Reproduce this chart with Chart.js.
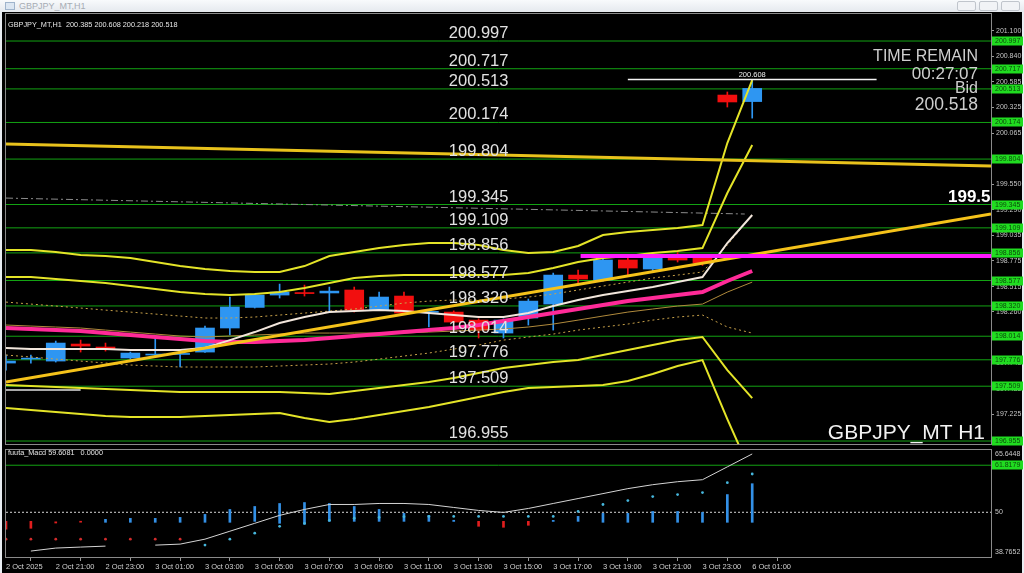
<!DOCTYPE html>
<html>
<head>
<meta charset="utf-8">
<title>GBPJPY_MT,H1</title>
<script src="https://cdn.jsdelivr.net/npm/chart.js@4.4.1/dist/chart.umd.min.js"></script>
<style>
  html, body { margin: 0; padding: 0; width: 1024px; height: 573px; overflow: hidden; background: #e9edf2; font-family: "Liberation Sans", Arial, sans-serif; }
  #titlebar { position: absolute; left: 0; top: 0; width: 1024px; height: 12px; background: linear-gradient(#f8fafc, #e5e9ee); }
  #titlebar .ico { position: absolute; left: 5px; top: 2px; width: 8px; height: 6px; border: 1px solid #9fb4cc; background: #dbe6f2; }
  #titlebar .cap { position: absolute; left: 19px; top: 1px; font-size: 9px; line-height: 10px; color: #a6acb4; }
  #titlebar .btn { position: absolute; top: 1px; width: 17px; height: 8px; border: 1px solid #c0c5cc; background: #f1f3f6; border-radius: 2px; }
  #pane { position: absolute; left: 2px; top: 12px; width: 1020px; height: 561px; background: #000; }
  canvas { position: absolute; left: 0; }
  #priceCanvas { top: 0; }
  #macdCanvas { top: 446px; }
  .t { position: absolute; white-space: nowrap; }
</style>
</head>
<body>
<div id="titlebar">
  <div class="ico"></div>
  <div class="cap">GBPJPY_MT,H1</div>
  <div class="btn" style="left:957px"></div>
  <div class="btn" style="left:979px"></div>
  <div class="btn" style="left:1001px"></div>
</div>
<div id="pane"></div>
<canvas id="priceCanvas" width="1024" height="452"></canvas>
<canvas id="macdCanvas" width="1024" height="127"></canvas>

<div class="t" style="left:8px;top:20px;font-size:7.3px;line-height:9px;color:#e6e6e6">GBPJPY_MT,H1&nbsp; 200.385 200.608 200.218 200.518</div>
<div class="t" style="right:46px;top:48px;font-size:16px;line-height:16px;color:#cfcfcf;font-family:'Liberation Sans Narrow','Liberation Sans',Arial,sans-serif">TIME REMAIN</div>
<div class="t" style="right:46px;top:65px;font-size:17px;line-height:17px;color:#cfcfcf">00:27:07</div>
<div class="t" style="right:46px;top:80px;font-size:16px;line-height:16px;color:#cfcfcf">Bid</div>
<div class="t" style="right:46px;top:95px;font-size:17.5px;line-height:18px;color:#cfcfcf">200.518</div>
<div class="t" style="left:948px;top:188px;width:43px;overflow:hidden;font-size:17px;line-height:17px;font-weight:bold;color:#ffffff">199.5</div>
<div class="t" style="right:39px;top:421px;font-size:21px;line-height:22px;color:#f2f2f2">GBPJPY_MT H1</div>
<div class="t" style="left:8px;top:448px;font-size:7.3px;line-height:9px;color:#e6e6e6">fuuta_Macd 59.6081&nbsp;&nbsp; 0.0000</div>

<script>
// ---- price panel data (bar 0 = 2 Oct 19:00, bar 30 = 6 Oct 01:00) ----
const levels = [200.997, 200.717, 200.513, 200.174, 199.804, 199.345, 199.109,
                198.856, 198.577, 198.320, 198.014, 197.776, 197.509, 196.955];
const priceTicks = [201.100, 200.840, 200.585, 200.325, 200.065, 199.805, 199.550, 199.290,
                    199.035, 198.775, 198.515, 198.260, 198.000, 197.745, 197.485, 197.225, 196.965];
const xTickIdx = [0, 2, 4, 6, 8, 10, 12, 14, 16, 18, 20, 22, 24, 26, 28, 30];
const xTickText = ['2 Oct 2025', '2 Oct 21:00', '2 Oct 23:00', '3 Oct 01:00', '3 Oct 03:00', '3 Oct 05:00',
                   '3 Oct 07:00', '3 Oct 09:00', '3 Oct 11:00', '3 Oct 13:00', '3 Oct 15:00', '3 Oct 17:00',
                   '3 Oct 19:00', '3 Oct 21:00', '3 Oct 23:00', '6 Oct 01:00'];

const openP  = [197.743, 197.783, 197.763, 197.935, 197.905, 197.794, 197.824, 197.830, 197.854, 198.097, 198.305,
                198.430, 198.455, 198.451, 198.481, 198.278, 198.420, 198.255, 198.258, 198.177, 198.046,
                198.198, 198.339, 198.632, 198.582, 198.784, 198.693, 198.834, 198.804, 200.451, 200.385];
const highP  = [197.824, 197.824, 197.965, 197.975, 197.945, 197.854, 198.006, 197.854, 198.117, 198.410, 198.440,
                198.541, 198.531, 198.511, 198.511, 198.460, 198.460, 198.268, 198.270, 198.190, 198.190,
                198.390, 198.652, 198.683, 198.800, 198.800, 198.830, 198.860, 198.830, 200.482, 200.608];
const lowP   = [197.672, 197.743, 197.753, 197.854, 197.864, 197.783, 197.804, 197.703, 197.850, 198.026, 198.299,
                198.400, 198.420, 198.258, 198.258, 198.275, 198.245, 198.107, 198.150, 197.996, 197.996,
                198.127, 198.076, 198.531, 198.570, 198.632, 198.663, 198.764, 198.730, 200.330, 200.218];
const closeP = [197.763, 197.790, 197.945, 197.915, 197.884, 197.844, 197.834, 197.840, 198.097, 198.309, 198.430,
                198.460, 198.445, 198.470, 198.278, 198.410, 198.248, 198.262, 198.157, 198.076, 198.177,
                198.369, 198.632, 198.592, 198.784, 198.703, 198.814, 198.784, 198.754, 200.381, 200.518];

const bandOuterUp  = [198.885, 198.885, 198.865, 198.834, 198.824, 198.804, 198.764, 198.723, 198.693, 198.673, 198.663,
                      198.663, 198.723, 198.824, 198.865, 198.905, 198.936, 198.956, 198.956, 198.936, 198.885,
                      198.855, 198.865, 198.926, 199.037, 199.067, 199.087, 199.107, 199.138, 199.966, 200.603];
const bandInnerUp  = [198.612, 198.612, 198.592, 198.572, 198.551, 198.521, 198.491, 198.460, 198.440, 198.430, 198.440,
                      198.460, 198.501, 198.551, 198.602, 198.622, 198.632, 198.632, 198.632, 198.632, 198.632,
                      198.652, 198.703, 198.764, 198.804, 198.824, 198.855, 198.875, 198.905, 199.461, 199.946];
const bandInnerLow = [197.521, 197.511, 197.500, 197.490, 197.480, 197.470, 197.460, 197.450, 197.450, 197.450, 197.450,
                      197.450, 197.440, 197.430, 197.460, 197.490, 197.521, 197.551, 197.591, 197.642, 197.692,
                      197.723, 197.753, 197.773, 197.824, 197.874, 197.925, 197.975, 198.006, 197.672, 197.389];
const bandOuterLow = [197.288, 197.268, 197.248, 197.228, 197.207, 197.197, 197.197, 197.197, 197.207, 197.217, 197.228,
                      197.238, 197.187, 197.147, 197.177, 197.217, 197.258, 197.298, 197.349, 197.399, 197.450,
                      197.490, 197.500, 197.511, 197.521, 197.561, 197.632, 197.713, 197.773, 197.177, 196.611];
const dotUp  = [198.359, 198.339, 198.319, 198.299, 198.278, 198.258, 198.238, 198.218, 198.198, 198.198, 198.208,
                198.228, 198.248, 198.268, 198.289, 198.319, 198.349, 198.369, 198.380, 198.380, 198.390,
                198.410, 198.440, 198.481, 198.521, 198.561, 198.602, 198.632, 198.663, 198.936, 199.239];
const dotLow = [197.824, 197.804, 197.783, 197.763, 197.743, 197.723, 197.713, 197.703, 197.703, 197.703, 197.703,
                197.713, 197.723, 197.733, 197.753, 197.783, 197.814, 197.844, 197.884, 197.925, 197.975,
                198.006, 198.036, 198.076, 198.107, 198.137, 198.177, 198.208, 198.228, 198.107, 198.046];
const maPink  = [198.097, 198.087, 198.076, 198.066, 198.046, 198.026, 198.006, 197.985, 197.965, 197.955, 197.955,
                 197.965, 197.975, 197.996, 198.016, 198.036, 198.056, 198.076, 198.097, 198.127, 198.167,
                 198.208, 198.248, 198.289, 198.329, 198.369, 198.400, 198.430, 198.460, 198.572, 198.673];
const maBrown = [198.127, 198.117, 198.107, 198.097, 198.076, 198.056, 198.036, 198.016, 198.006, 198.016, 198.026,
                 198.036, 198.046, 198.046, 198.046, 198.046, 198.046, 198.056, 198.066, 198.076, 198.087,
                 198.107, 198.137, 198.177, 198.218, 198.258, 198.289, 198.319, 198.339, 198.460, 198.561];
const maWhite = [197.895, 197.884, 197.884, 197.884, 197.884, 197.874, 197.874, 197.874, 197.895, 197.975, 198.056,
                 198.147, 198.208, 198.258, 198.268, 198.278, 198.268, 198.248, 198.228, 198.208, 198.208,
                 198.248, 198.319, 198.380, 198.430, 198.470, 198.511, 198.561, 198.612, 198.956, 199.239];

// drawn objects: anchor bars and prices
const trendUpX = [0, 39.6],    trendUpY = [197.551, 199.249];
const trendDownX = [0, 39.6],  trendDownY = [199.956, 199.734];
const dashDotX = [0, 29.7],    dashDotY = [199.410, 199.249];
const magentaX = [23.1, 39.6], magentaLevel = 198.824;
const highX = [25, 35],        highLevel = 200.608;
const stubX = [0, 3],          stubLevel = 197.470;
const levelCaptionBar = 19;

// ---- fuuta_Macd panel data ----
const macdBarFrom = [45.73, 45.98, 47.30, 47.50, 47.48, 47.48, 47.48, 47.48, 47.48, 47.48, 47.72,
                     47.23, 46.98, 47.72, 47.72, 47.72, 47.72, 47.72, 47.70, 46.48, 46.23,
                     46.73, 47.70, 47.72, 47.48, 47.48, 47.48, 47.48, 47.48, 47.48, 47.48];
const macdBarTo   = [47.72, 47.72, 47.60, 47.70, 48.22, 48.47, 48.47, 48.72, 49.47, 50.71, 51.46,
                     52.21, 52.45, 52.21, 51.46, 50.71, 49.72, 49.22, 48.00, 47.72, 47.72,
                     47.72, 47.97, 48.97, 49.72, 49.72, 50.21, 50.21, 49.96, 54.45, 57.18];
const macdBarDown = [1, 1, 1, 1, 0, 0, 0, 0, 0, 0, 0, 0, 0, 0, 0, 0, 0, 0, 0, 1, 1, 1, 0, 0, 0, 0, 0, 0, 0, 0, 0];
const macdMain = [43.25, 43.25, 43.25, 43.25, 43.25, 43.25, 43.25, 43.25, 41.75, 43.25, 44.74,
                  46.48, 47.23, 47.97, 48.50, 48.70, 48.90, 48.97, 48.97, 48.97, 48.97,
                  48.97, 48.97, 50.21, 51.96, 52.95, 53.95, 54.45, 54.94, 57.43, 59.61];
const macdSignal = [null, 40.26, 41.01, 41.26, 41.50, null, 41.75, 42.00, 43.25, 45.24, 47.23,
                    49.22, 50.71, 51.96, 51.96, 52.21, 52.21, 51.96, 51.21, 50.46, 49.96,
                    50.96, 52.21, 53.45, 54.69, 55.94, 56.93, 57.68, 58.18, 61.41, 64.65];
const macdMin = 38.7652, macdMax = 65.6448, macdLevel = 61.8179, macdMid = 50;

// ---- helpers ----
const xMin = 0, xMax = 39.6;
const FONT = '"Liberation Sans", Arial, sans-serif';
Chart.defaults.font.family = FONT;

const pts = arr => arr.map((v, i) => ({x: i, y: v}));
const seg = (xs, ys) => xs.map((x, k) => ({x: x, y: ys[k]}));
const flat = (xs, v) => xs.map(x => ({x: x, y: v}));

function lineDs(data, color, width, order, extra) {
  return Object.assign({
    type: 'line', data: data, borderColor: color, borderWidth: width,
    pointRadius: 0, fill: false, tension: 0, order: order
  }, extra || {});
}

const candleCol = closeP.map((c, i) => c >= openP[i] ? '#2e96f2' : '#f20f0f');

const framePlugin = {
  id: 'frame',
  beforeDatasetsDraw(chart) {
    const {ctx, chartArea: a} = chart;
    ctx.save();
    ctx.strokeStyle = '#8a8a8a';
    ctx.lineWidth = 1;
    ctx.strokeRect(a.left - 0.5, a.top - 0.5, a.right - a.left + 1, a.bottom - a.top + 1);
    ctx.restore();
  }
};

const priceMarks = {
  id: 'priceMarks',
  afterDraw(chart) {
    const {ctx, chartArea: a} = chart;
    const x = chart.scales.x, y = chart.scales.y;
    ctx.save();
    // big captions over the levels
    ctx.font = '16.5px ' + FONT;
    ctx.fillStyle = '#e2e2e2';
    ctx.textAlign = 'center';
    ctx.textBaseline = 'alphabetic';
    levels.forEach(v => {
      ctx.fillText(v.toFixed(3), x.getPixelForValue(levelCaptionBar), Math.round(y.getPixelForValue(v)) - 3);
    });
    // caption of the high line
    ctx.font = '7.5px ' + FONT;
    ctx.fillStyle = '#eeeeee';
    ctx.fillText(highLevel.toFixed(3), x.getPixelForValue(30), Math.round(y.getPixelForValue(highLevel)) - 3);
    // green price boxes on the axis
    ctx.font = '7px ' + FONT;
    ctx.textAlign = 'left';
    ctx.textBaseline = 'middle';
    levels.forEach(v => {
      const py = Math.round(y.getPixelForValue(v));
      ctx.fillStyle = '#20dc20';
      ctx.fillRect(a.right + 1, py - 4.5, 31, 9);
      ctx.fillStyle = '#0b4a0b';
      ctx.fillText(v.toFixed(3), a.right + 4, py + 0.5);
    });
    ctx.restore();
  }
};

const macdMarks = {
  id: 'macdMarks',
  afterDraw(chart) {
    const {ctx, chartArea: a} = chart;
    const y = chart.scales.y;
    ctx.save();
    ctx.font = '7px ' + FONT;
    ctx.textAlign = 'left';
    ctx.textBaseline = 'middle';
    ctx.fillStyle = '#c8c8c8';
    ctx.fillText(macdMax.toFixed(4), a.right + 4, a.top + 4);
    ctx.fillText(String(macdMid), a.right + 4, Math.round(y.getPixelForValue(macdMid)));
    ctx.fillText(macdMin.toFixed(4), a.right + 4, a.bottom - 5);
    const py = Math.round(y.getPixelForValue(macdLevel));
    ctx.fillStyle = '#20dc20';
    ctx.fillRect(a.right + 1, py - 4.5, 31, 9);
    ctx.fillStyle = '#0b4a0b';
    ctx.fillText(macdLevel.toFixed(4), a.right + 4, py + 0.5);
    ctx.restore();
  }
};

// ---- price chart ----
const priceSets = [];
levels.forEach(v => priceSets.push(lineDs(flat([xMin, xMax], v), '#13a313', 1, 40)));
priceSets.push({
  type: 'bar', data: openP.map((o, i) => ({x: i, y: [lowP[i], highP[i]]})),
  backgroundColor: candleCol, barThickness: 1, grouped: false, order: 31
});
priceSets.push({
  type: 'bar', data: openP.map((o, i) => ({x: i, y: [o, closeP[i]]})),
  backgroundColor: candleCol, barThickness: 19, minBarLength: 1, grouped: false, order: 30
});
priceSets.push(lineDs(flat(stubX, stubLevel), '#a8a8a8', 2, 20));
priceSets.push(lineDs(seg(dashDotX, dashDotY), '#8c8c8c', 1, 19, {borderDash: [7, 3, 2, 3]}));
priceSets.push(lineDs(pts(dotUp), '#c9a24a', 1, 18, {borderDash: [2, 3]}));
priceSets.push(lineDs(pts(dotLow), '#c9a24a', 1, 17, {borderDash: [2, 3]}));
priceSets.push(lineDs(pts(maBrown), '#b08a3c', 1, 16));
priceSets.push(lineDs(pts(bandOuterUp), '#e4e428', 2, 15));
priceSets.push(lineDs(pts(bandInnerUp), '#e4e428', 2, 14));
priceSets.push(lineDs(pts(bandInnerLow), '#e4e428', 2, 13));
priceSets.push(lineDs(pts(bandOuterLow), '#e4e428', 2, 12));
priceSets.push(lineDs(pts(maPink), '#ff2a98', 4, 11));
priceSets.push(lineDs(pts(maWhite), '#f2e6dc', 2, 10));
priceSets.push(lineDs(seg(trendDownX, trendDownY), '#e8c21c', 3, 9));
priceSets.push(lineDs(seg(trendUpX, trendUpY), '#f5c21a', 3, 8));
priceSets.push(lineDs(flat(magentaX, magentaLevel), '#ff1cff', 4, 7));
priceSets.push(lineDs(flat(highX, highLevel), '#f4f4f4', 1.5, 6));

new Chart(document.getElementById('priceCanvas'), {
  type: 'bar',
  data: {datasets: priceSets},
  plugins: [framePlugin, priceMarks],
  options: {
    responsive: false, animation: false, events: [],
    layout: {padding: {left: 6, top: 14, right: 0, bottom: 8}},
    plugins: {legend: {display: false}, tooltip: {enabled: false}},
    scales: {
      x: {type: 'linear', min: xMin, max: xMax, offset: false, display: false},
      y: {
        type: 'linear', position: 'right', min: 196.925, max: 201.270,
        afterFit: s => { s.width = 33; },
        afterBuildTicks: s => { s.ticks = priceTicks.map(v => ({value: v})); },
        ticks: {autoSkip: false, padding: 2, color: '#c4c4c4', font: {size: 7},
                callback: v => Number(v).toFixed(3)},
        grid: {drawOnChartArea: false, tickLength: 3, color: '#9a9a9a'},
        border: {color: '#9a9a9a'}
      }
    }
  }
});

// ---- macd chart ----
const barCol = macdBarDown.map(d => d ? '#e01e1e' : '#3390e6');
const dotCol = macdMain.map((v, i) => i < 8 ? '#d22c2c' : '#46b6dc');

new Chart(document.getElementById('macdCanvas'), {
  type: 'bar',
  data: {
    datasets: [
      lineDs(flat([xMin, xMax], macdLevel), '#13a313', 1, 20),
      lineDs(flat([xMin, xMax], macdMid), '#d8d8d8', 1, 19, {borderDash: [2, 2]}),
      {type: 'bar', data: macdBarFrom.map((v, i) => ({x: i, y: [v, macdBarTo[i]]})),
       backgroundColor: barCol, barThickness: 2, minBarLength: 1, grouped: false, order: 10},
      lineDs(pts(macdSignal), '#d4d4d4', 1, 5, {spanGaps: false}),
      lineDs(pts(macdMain), 'rgba(0,0,0,0)', 0, 4, {showLine: false, pointRadius: 1.4,
        pointBackgroundColor: dotCol, pointBorderWidth: 0})
    ]
  },
  plugins: [framePlugin, macdMarks],
  options: {
    responsive: false, animation: false, events: [],
    layout: {padding: {left: 6, top: 2, right: 0, bottom: 0}},
    plugins: {legend: {display: false}, tooltip: {enabled: false}},
    scales: {
      x: {
        type: 'linear', min: xMin, max: xMax, offset: false, position: 'bottom',
        afterFit: s => { s.height = 16; },
        afterBuildTicks: s => { s.ticks = xTickIdx.map(v => ({value: v})); },
        ticks: {autoSkip: false, maxRotation: 0, align: 'start', padding: 1, color: '#d0d0d0',
                font: {size: 7.5}, callback: v => xTickText[xTickIdx.indexOf(Math.round(v))] || ''},
        grid: {drawOnChartArea: false, tickLength: 4, color: '#9a9a9a'},
        border: {color: '#9a9a9a'}
      },
      y: {
        type: 'linear', position: 'right', min: macdMin, max: macdMax,
        afterFit: s => { s.width = 33; },
        ticks: {display: false},
        grid: {drawOnChartArea: false, drawTicks: false},
        border: {color: '#9a9a9a'}
      }
    }
  }
});
</script>
</body>
</html>
